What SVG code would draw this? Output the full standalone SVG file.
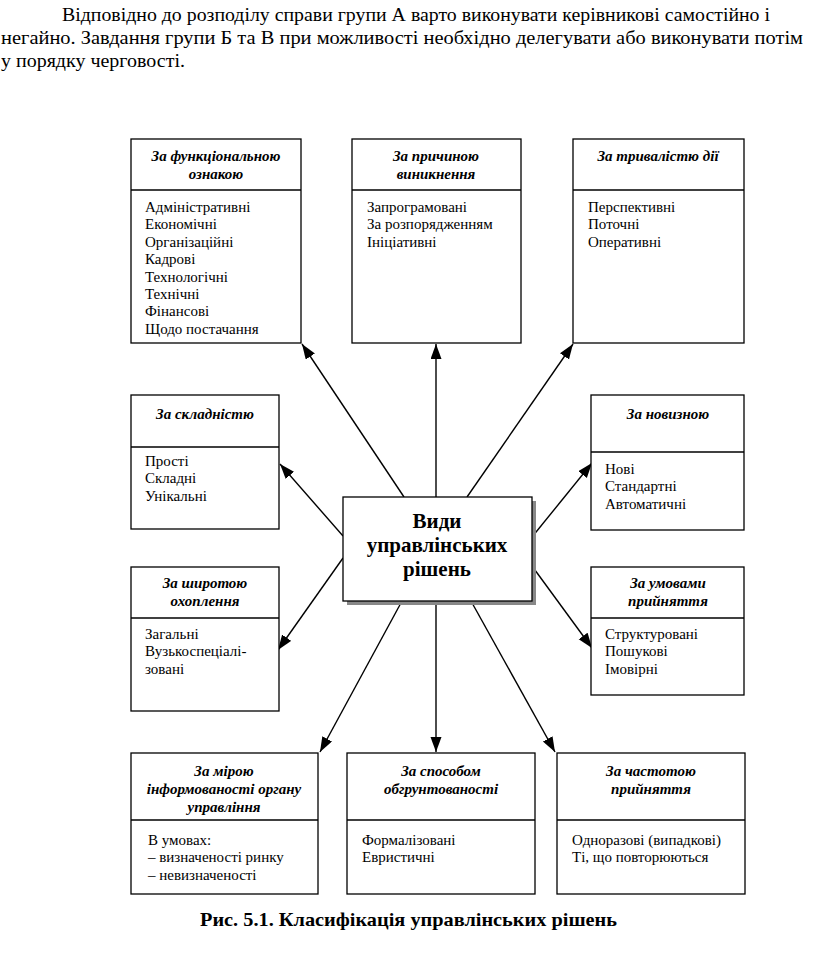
<svg xmlns="http://www.w3.org/2000/svg" width="816" height="957" viewBox="0 0 816 957" font-family="Liberation Serif, Tinos, DejaVu Serif, serif">
<style>
text{font-family:"Liberation Serif",Tinos,"DejaVu Serif",serif;fill:#000}
.p{font-size:19px}
.h{font-size:15px;font-weight:bold;font-style:italic;text-anchor:middle}
.b{font-size:15px}
.box{fill:#fff;stroke:#000;stroke-width:1.3}
.div{stroke:#000;stroke-width:1.3}
.c{font-size:21px;font-weight:bold;text-anchor:middle}
.cap{font-size:19px;font-weight:bold}
.ln{stroke:#000;stroke-width:1.4;fill:none;marker-end:url(#ah)}
</style>
<defs>
<marker id="ah" markerUnits="userSpaceOnUse" markerWidth="16" markerHeight="12" refX="15" refY="5.5" orient="auto">
<path d="M0,0 L15,5.5 L0,11 z" fill="#000"/>
</marker>
</defs>
<rect width="816" height="957" fill="#fff"/>
<text class="p" x="62" y="21" textLength="708" lengthAdjust="spacingAndGlyphs">Відповідно до розподілу справи групи А варто виконувати керівникові самостійно і</text>
<text class="p" x="1" y="44" textLength="802" lengthAdjust="spacingAndGlyphs">негайно. Завдання групи Б та В при можливості необхідно делегувати або виконувати потім</text>
<text class="p" x="1" y="67" textLength="184" lengthAdjust="spacingAndGlyphs">у порядку черговості.</text>

<g id="connectors">
<line class="ln" x1="404" y1="497" x2="302" y2="344"/>
<line class="ln" x1="436" y1="497" x2="436" y2="344"/>
<line class="ln" x1="467" y1="497" x2="573" y2="344"/>
<line class="ln" x1="343" y1="536" x2="280" y2="464"/>
<line class="ln" x1="343" y1="558" x2="278" y2="650"/>
<line class="ln" x1="532" y1="537" x2="592" y2="463"/>
<line class="ln" x1="532" y1="566" x2="592" y2="648"/>
<line class="ln" x1="402" y1="601" x2="320" y2="752"/>
<line class="ln" x1="436" y1="601" x2="436" y2="752"/>
<line class="ln" x1="471" y1="601" x2="555" y2="752"/>
</g>

<g id="center">
<rect x="347" y="501" width="189" height="104" fill="#888"/>
<rect class="box" x="343" y="497" width="189" height="104"/>
<text class="c" x="437" y="528">Види</text>
<text class="c" x="437" y="552">управлінських</text>
<text class="c" x="437" y="576">рішень</text>
</g>

<g id="n1">
<rect class="box" x="131" y="139" width="170" height="204"/>
<line class="div" x1="131" y1="190" x2="301" y2="190"/>
<text class="h" x="216" y="161">За функціональною</text>
<text class="h" x="216" y="179">ознакою</text>
<text class="b" x="145" y="212">Адміністративні</text>
<text class="b" x="145" y="229.4">Економічні</text>
<text class="b" x="145" y="246.8">Організаційні</text>
<text class="b" x="145" y="264.2">Кадрові</text>
<text class="b" x="145" y="281.6">Технологічні</text>
<text class="b" x="145" y="299">Технічні</text>
<text class="b" x="145" y="316.4">Фінансові</text>
<text class="b" x="145" y="333.8">Щодо постачання</text>
</g>

<g id="n2">
<rect class="box" x="352" y="139" width="169" height="204"/>
<line class="div" x1="352" y1="190" x2="521" y2="190"/>
<text class="h" x="436" y="161">За причиною</text>
<text class="h" x="436" y="179">виникнення</text>
<text class="b" x="367" y="212">Запрограмовані</text>
<text class="b" x="367" y="229.4">За розпорядженням</text>
<text class="b" x="367" y="246.8">Ініціативні</text>
</g>

<g id="n3">
<rect class="box" x="573" y="139" width="171" height="204"/>
<line class="div" x1="573" y1="190" x2="744" y2="190"/>
<text class="h" x="658" y="161">За тривалістю дії</text>
<text class="b" x="588" y="212">Перспективні</text>
<text class="b" x="588" y="229.4">Поточні</text>
<text class="b" x="588" y="246.8">Оперативні</text>
</g>

<g id="n4">
<rect class="box" x="131" y="395" width="148" height="134"/>
<line class="div" x1="131" y1="447" x2="279" y2="447"/>
<text class="h" x="205" y="419">За складністю</text>
<text class="b" x="145" y="466">Прості</text>
<text class="b" x="145" y="483.4">Складні</text>
<text class="b" x="145" y="500.8">Унікальні</text>
</g>

<g id="n5">
<rect class="box" x="131" y="567" width="148" height="144"/>
<line class="div" x1="131" y1="618" x2="279" y2="618"/>
<text class="h" x="205" y="588">За широтою</text>
<text class="h" x="205" y="606">охоплення</text>
<text class="b" x="145" y="639">Загальні</text>
<text class="b" x="145" y="656.4">Вузькоспеціалі-</text>
<text class="b" x="145" y="673.8">зовані</text>
</g>

<g id="n6">
<rect class="box" x="591" y="395" width="153" height="135"/>
<line class="div" x1="591" y1="452" x2="744" y2="452"/>
<text class="h" x="668" y="419">За новизною</text>
<text class="b" x="605" y="474">Нові</text>
<text class="b" x="605" y="491.4">Стандартні</text>
<text class="b" x="605" y="508.8">Автоматичні</text>
</g>

<g id="n7">
<rect class="box" x="591" y="567" width="153" height="128"/>
<line class="div" x1="591" y1="618" x2="744" y2="618"/>
<text class="h" x="668" y="588">За умовами</text>
<text class="h" x="668" y="606">прийняття</text>
<text class="b" x="605" y="639">Структуровані</text>
<text class="b" x="605" y="656.4">Пошукові</text>
<text class="b" x="605" y="673.8">Імовірні</text>
</g>

<g id="n8">
<rect class="box" x="131" y="753" width="187" height="141"/>
<line class="div" x1="131" y1="820" x2="318" y2="820"/>
<text class="h" x="224" y="776">За мірою</text>
<text class="h" x="224" y="794">інформованості органу</text>
<text class="h" x="224" y="812">управління</text>
<text class="b" x="148" y="845">В умовах:</text>
<text class="b" x="148" y="862.4">– визначеності ринку</text>
<text class="b" x="148" y="879.8">– невизначеності</text>
</g>

<g id="n9">
<rect class="box" x="347" y="753" width="188" height="141"/>
<line class="div" x1="347" y1="820" x2="535" y2="820"/>
<text class="h" x="441" y="776">За способом</text>
<text class="h" x="441" y="794">обгрунтованості</text>
<text class="b" x="362" y="845">Формалізовані</text>
<text class="b" x="362" y="862.4">Евристичні</text>
</g>

<g id="n10">
<rect class="box" x="557" y="753" width="188" height="141"/>
<line class="div" x1="557" y1="820" x2="745" y2="820"/>
<text class="h" x="651" y="776">За частотою</text>
<text class="h" x="651" y="794">прийняття</text>
<text class="b" x="572" y="845">Одноразові (випадкові)</text>
<text class="b" x="572" y="862.4">Ті, що повторюються</text>
</g>

<text class="cap" x="200" y="926" textLength="417" lengthAdjust="spacingAndGlyphs">Рис. 5.1. Класифікація управлінських рішень</text>
</svg>
